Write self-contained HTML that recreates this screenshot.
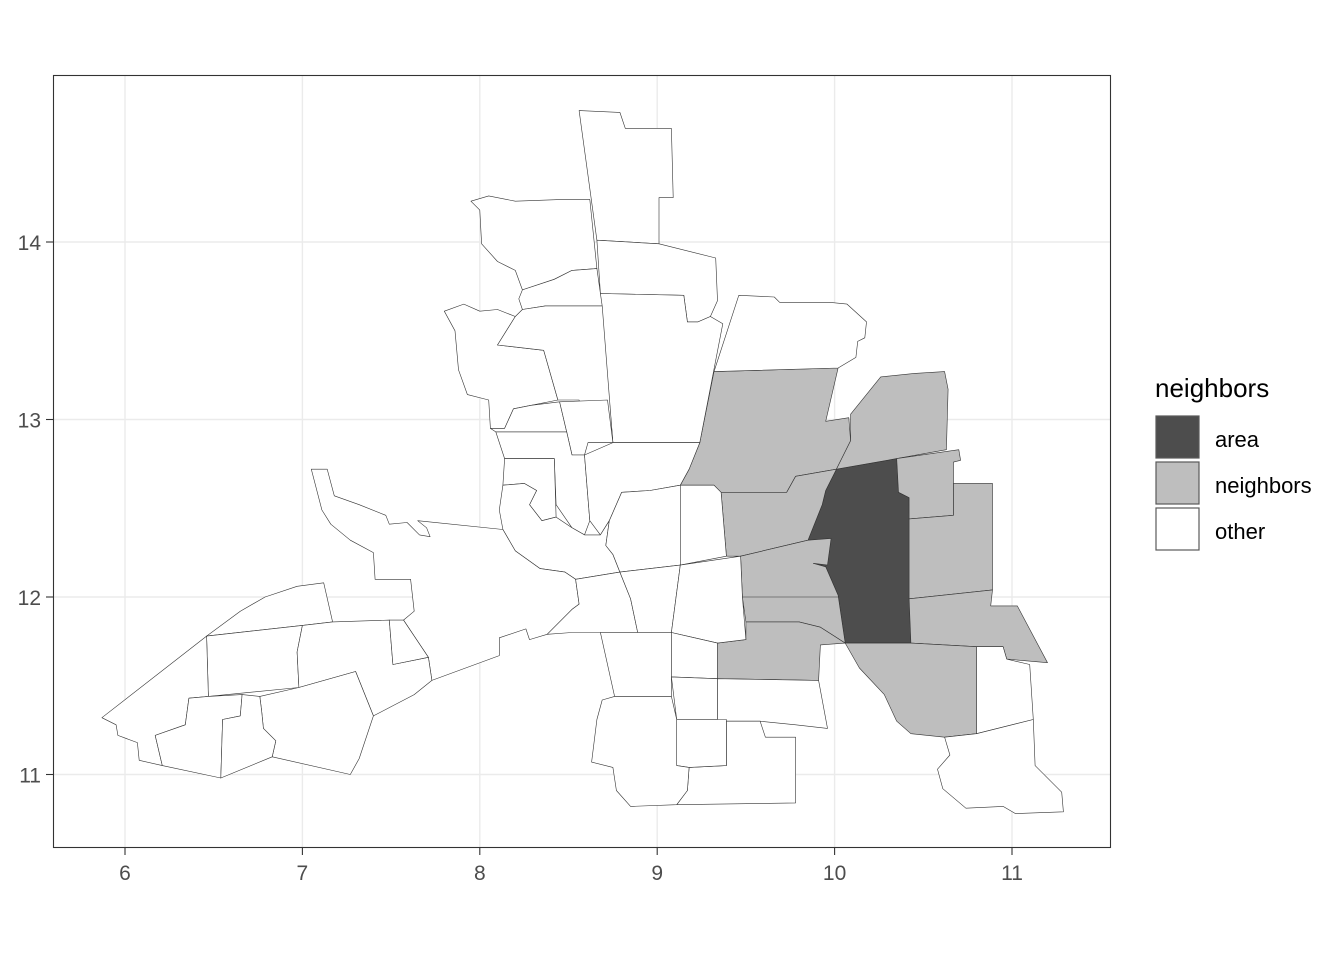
<!DOCTYPE html>
<html><head><meta charset="utf-8">
<style>
body{margin:0;background:#fff;}
svg{display:block;font-family:"Liberation Sans",Arial,sans-serif;}
</style></head>
<body>
<svg id="chart" width="1344" height="960" viewBox="0 0 1344 960">
<rect x="0" y="0" width="1344" height="960" fill="#fff"/>
<g id="grid"></g>
<g id="regions"></g>
<rect x="53.5" y="75.5" width="1057" height="772" fill="none" stroke="#333" stroke-width="1.1"/>
<g id="axes"></g>
<g id="legend">
  <text x="1155" y="397" font-size="26" fill="#000">neighbors</text>
  <g>
    <rect x="1156" y="416" width="43" height="42" fill="#4d4d4d" stroke="#595959" stroke-width="1.2"/>
    <text x="1215" y="447" font-size="22">area</text>
  </g>
  <g>
    <rect x="1156" y="462" width="43" height="42" fill="#bebebe" stroke="#595959" stroke-width="1.2"/>
    <text x="1215" y="493" font-size="22">neighbors</text>
  </g>
  <g>
    <rect x="1156" y="508" width="43" height="42" fill="#fff" stroke="#595959" stroke-width="1.2"/>
    <text x="1215" y="539" font-size="22">other</text>
  </g>
</g>
</svg>
<script>
const xTicks = [6, 7, 8, 9, 10, 11];
const yTicks = [11, 12, 13, 14];
const categories = ["area", "neighbors", "other"];
const fills = {area: "#4d4d4d", neighbors: "#bebebe", other: "#ffffff"};
const regionCategory = [
 "area","neighbors","neighbors","neighbors","neighbors","neighbors","neighbors","neighbors","neighbors","neighbors",
 "other","other","other","other","other","other","other","other","other","other","other","other","other","other","other",
 "other","other","other","other","other","other","other","other","other","other","other","other","other","other","other",
 "other","other","other","other","other","other","other"
];
const regionCoords = [
 // area
 [10.01,12.72,10.35,12.78,10.36,12.59,10.42,12.56,10.43,11.74,10.06,11.74,10.02,12.01,9.95,12.17,9.88,12.19,9.85,12.32,9.93,12.52,9.95,12.60],
 // neighbors
 [9.32,13.27,10.02,13.29,9.95,12.99,10.08,13.01,10.09,12.88,10.01,12.72,9.78,12.68,9.73,12.59,9.36,12.59,9.32,12.63,9.13,12.63,9.18,12.72,9.24,12.87],
 [10.09,13.03,10.26,13.24,10.45,13.26,10.62,13.27,10.64,13.17,10.63,12.83,10.35,12.78,10.01,12.72,10.09,12.88],
 [10.35,12.78,10.70,12.83,10.71,12.77,10.67,12.76,10.67,12.46,10.42,12.44,10.42,12.56,10.36,12.59],
 [10.42,12.44,10.67,12.46,10.67,12.64,10.89,12.64,10.89,12.04,10.42,11.99],
 [10.42,11.99,10.89,12.04,10.88,11.95,11.03,11.95,11.20,11.63,10.97,11.65,10.95,11.72,10.80,11.72,10.43,11.74],
 [10.06,11.74,10.43,11.74,10.80,11.72,10.80,11.23,10.62,11.21,10.43,11.23,10.35,11.30,10.28,11.45,10.14,11.60],
 [9.36,12.59,9.73,12.59,9.78,12.68,10.01,12.72,9.95,12.60,9.93,12.52,9.85,12.32,9.47,12.23,9.39,12.23],
 [9.47,12.23,9.85,12.32,9.98,12.33,9.96,12.18,9.88,12.19,9.95,12.17,10.02,12.01,10.06,11.74,9.92,11.83,9.80,11.86,9.50,11.86,9.48,12.00],
 [9.34,11.74,9.50,11.76,9.50,11.86,9.80,11.86,9.92,11.83,10.06,11.74,9.92,11.73,9.91,11.53,9.34,11.54],
 // other
 [8.56,14.74,8.79,14.73,8.82,14.64,9.08,14.64,9.09,14.25,9.01,14.25,9.01,13.99,8.66,14.01],
 [8.66,14.01,9.01,13.99,9.33,13.91,9.34,13.67,9.30,13.58,9.23,13.55,9.17,13.55,9.15,13.70,8.68,13.71],
 [8.68,13.71,9.15,13.70,9.17,13.55,9.23,13.55,9.30,13.58,9.37,13.54,9.24,12.87,8.75,12.87],
 [9.46,13.70,9.66,13.69,9.69,13.66,9.97,13.66,10.07,13.65,10.18,13.55,10.17,13.46,10.13,13.44,10.12,13.35,10.02,13.29,9.32,13.27],
 [7.95,14.23,8.05,14.26,8.20,14.23,8.47,14.24,8.62,14.24,8.66,13.85,8.52,13.84,8.42,13.79,8.24,13.73,8.20,13.84,8.10,13.89,8.01,13.99,8.00,14.18],
 [8.24,13.73,8.42,13.79,8.52,13.84,8.66,13.85,8.68,13.71,8.69,13.64,8.37,13.64,8.24,13.62,8.22,13.68],
 [7.80,13.61,7.91,13.65,8.00,13.61,8.10,13.62,8.20,13.58,8.10,13.42,8.36,13.39,8.44,13.11,8.29,13.08,8.19,13.06,8.14,12.95,8.06,12.95,8.05,13.11,7.93,13.14,7.88,13.28,7.86,13.50],
 [8.20,13.58,8.24,13.62,8.37,13.64,8.69,13.64,8.75,12.87,8.59,12.87,8.56,13.11,8.44,13.11,8.36,13.39,8.10,13.42],
 [8.06,12.95,8.14,12.95,8.19,13.06,8.29,13.08,8.45,13.10,8.49,12.93,8.09,12.93],
 [8.45,13.10,8.72,13.11,8.75,12.87,8.61,12.87,8.59,12.80,8.52,12.80,8.49,12.93],
 [8.09,12.93,8.49,12.93,8.52,12.80,8.59,12.80,8.62,12.43,8.59,12.35,8.52,12.39,8.43,12.52,8.42,12.78,8.14,12.78],
 [8.14,12.78,8.42,12.78,8.43,12.45,8.35,12.43,8.28,12.52,8.32,12.60,8.25,12.64,8.13,12.63],
 [8.59,12.80,8.75,12.87,9.24,12.87,9.18,12.72,9.13,12.63,8.96,12.60,8.80,12.59,8.73,12.43,8.68,12.35,8.62,12.43],
 [8.13,12.63,8.25,12.64,8.32,12.60,8.28,12.52,8.35,12.43,8.43,12.45,8.52,12.39,8.59,12.35,8.68,12.35,8.73,12.43,8.71,12.29,8.75,12.24,8.79,12.14,8.54,12.10,8.48,12.14,8.34,12.16,8.20,12.26,8.13,12.38,8.11,12.49],
 [7.05,12.72,7.14,12.72,7.18,12.57,7.32,12.52,7.47,12.46,7.49,12.41,7.59,12.42,7.66,12.35,7.72,12.34,7.70,12.39,7.65,12.43,8.13,12.38,8.20,12.26,8.34,12.16,8.48,12.14,8.54,12.10,8.56,11.96,8.52,11.93,8.38,11.79,8.28,11.76,8.26,11.82,8.11,11.77,8.11,11.67,7.73,11.53,7.71,11.66,7.61,11.81,7.57,11.87,7.63,11.92,7.61,12.10,7.41,12.10,7.40,12.25,7.27,12.32,7.16,12.41,7.11,12.49],
 [8.54,12.10,8.79,12.14,8.85,11.99,8.89,11.80,8.68,11.80,8.52,11.80,8.38,11.79,8.52,11.93,8.56,11.96],
 [8.73,12.43,8.80,12.59,8.96,12.60,9.13,12.63,9.13,12.18,8.79,12.14,8.75,12.24,8.71,12.29],
 [9.13,12.63,9.32,12.63,9.36,12.59,9.39,12.23,9.13,12.18],
 [8.79,12.14,9.13,12.18,9.08,11.80,8.89,11.80,8.85,11.99],
 [9.13,12.18,9.47,12.23,9.48,12.00,9.50,11.76,9.34,11.74,9.08,11.80],
 [8.68,11.80,8.89,11.80,9.08,11.80,9.08,11.44,8.76,11.44],
 [9.08,11.80,9.34,11.74,9.34,11.54,9.08,11.55],
 [9.08,11.55,9.34,11.54,9.34,11.31,9.11,11.31],
 [9.34,11.54,9.91,11.53,9.96,11.26,9.78,11.28,9.58,11.30,9.34,11.30],
 [9.39,11.30,9.58,11.30,9.61,11.21,9.78,11.21,9.78,10.84,9.11,10.83,9.17,10.91,9.18,11.04,9.39,11.05],
 [9.11,11.31,9.39,11.31,9.39,11.05,9.18,11.04,9.11,11.05],
 [8.76,11.44,9.08,11.44,9.11,11.31,9.11,11.05,9.18,11.04,9.17,10.91,9.11,10.83,8.85,10.82,8.77,10.91,8.75,11.04,8.63,11.07,8.66,11.31,8.69,11.42],
 [10.80,11.72,10.95,11.72,10.97,11.65,11.10,11.62,11.12,11.31,10.80,11.23],
 [10.80,11.23,11.12,11.31,11.13,11.05,11.28,10.90,11.29,10.79,11.02,10.78,10.95,10.82,10.74,10.81,10.61,10.92,10.58,11.03,10.65,11.11,10.62,11.21],
 [6.46,11.78,6.65,11.92,6.79,12.00,6.97,12.06,7.12,12.08,7.17,11.86,7.00,11.84],
 [6.46,11.78,7.00,11.84,6.97,11.69,6.98,11.49,6.47,11.44],
 [7.00,11.84,7.17,11.86,7.49,11.87,7.51,11.62,7.71,11.66,7.73,11.53,7.63,11.45,7.40,11.33,7.30,11.58,6.98,11.49,6.97,11.69],
 [7.49,11.87,7.57,11.87,7.61,11.81,7.71,11.66,7.51,11.62],
 [6.46,11.78,6.47,11.44,6.36,11.43,6.34,11.28,6.17,11.22,6.21,11.05,6.08,11.08,6.07,11.18,5.96,11.22,5.95,11.28,5.87,11.32],
 [6.47,11.44,6.66,11.45,6.65,11.33,6.55,11.31,6.54,10.98,6.21,11.05,6.17,11.22,6.34,11.28,6.36,11.43],
 [6.76,11.44,6.98,11.49,7.30,11.58,7.40,11.33,7.32,11.09,7.27,11.00,6.83,11.10,6.85,11.19,6.78,11.26,6.77,11.36],
 [6.66,11.45,6.76,11.44,6.77,11.36,6.78,11.26,6.85,11.19,6.83,11.10,6.54,10.98,6.55,11.31,6.65,11.33]
];
const innerLines = [
 [9.48,12.00,10.02,12.00]
];

const X0 = 125, XS = 177.4, Y0 = 242, YS = 177.5;
function xScale(lon){ return X0 + (lon - 6) * XS; }
function yScale(lat){ return Y0 + (14 - lat) * YS; }
const NS = "http://www.w3.org/2000/svg";

const grid = document.getElementById('grid');
xTicks.forEach(function(t){
  const l = document.createElementNS(NS, 'line');
  l.setAttribute('x1', xScale(t)); l.setAttribute('x2', xScale(t));
  l.setAttribute('y1', 75); l.setAttribute('y2', 848);
  l.setAttribute('stroke', '#ebebeb'); l.setAttribute('stroke-width', '1.4');
  
  
  grid.appendChild(l);
});
yTicks.forEach(function(t){
  const l = document.createElementNS(NS, 'line');
  l.setAttribute('y1', yScale(t)); l.setAttribute('y2', yScale(t));
  l.setAttribute('x1', 53); l.setAttribute('x2', 1111);
  l.setAttribute('stroke', '#ebebeb'); l.setAttribute('stroke-width', '1.4');
  
  
  grid.appendChild(l);
});

const regions = document.getElementById('regions');
regionCoords.forEach(function(c, i){
  const pts = [];
  for (let k = 0; k < c.length; k += 2) pts.push(xScale(c[k]).toFixed(1) + ',' + yScale(c[k+1]).toFixed(1));
  const p = document.createElementNS(NS, 'polygon');
  p.setAttribute('points', pts.join(' '));
  p.setAttribute('fill', fills[regionCategory[i]]);
  p.setAttribute('stroke', '#333');
  p.setAttribute('stroke-width', '0.6');
  p.setAttribute('stroke-linejoin', 'round');
  
  
  regions.appendChild(p);
});
innerLines.forEach(function(c){
  const l = document.createElementNS(NS, 'line');
  l.setAttribute('x1', xScale(c[0])); l.setAttribute('y1', yScale(c[1]));
  l.setAttribute('x2', xScale(c[2])); l.setAttribute('y2', yScale(c[3]));
  l.setAttribute('stroke', '#333'); l.setAttribute('stroke-width', '0.6');
  
  
  regions.appendChild(l);
});

const axes = document.getElementById('axes');
xTicks.forEach(function(t){
  const x = xScale(t);
  const l = document.createElementNS(NS, 'line');
  l.setAttribute('x1', x); l.setAttribute('x2', x); l.setAttribute('y1', 848); l.setAttribute('y2', 855);
  l.setAttribute('stroke', '#333'); l.setAttribute('stroke-width', '1.1');
  
  
  axes.appendChild(l);
  const tx = document.createElementNS(NS, 'text');
  tx.setAttribute('x', x); tx.setAttribute('y', 880);
  tx.setAttribute('text-anchor', 'middle'); tx.setAttribute('font-size', '21'); tx.setAttribute('fill', '#4d4d4d');
  tx.textContent = t;
  
  
  axes.appendChild(tx);
});
yTicks.forEach(function(t){
  const y = yScale(t);
  const l = document.createElementNS(NS, 'line');
  l.setAttribute('y1', y); l.setAttribute('y2', y); l.setAttribute('x1', 46); l.setAttribute('x2', 53);
  l.setAttribute('stroke', '#333'); l.setAttribute('stroke-width', '1.1');
  
  
  axes.appendChild(l);
  const tx = document.createElementNS(NS, 'text');
  tx.setAttribute('x', 41); tx.setAttribute('y', y + 8);
  tx.setAttribute('text-anchor', 'end'); tx.setAttribute('font-size', '21'); tx.setAttribute('fill', '#4d4d4d');
  tx.textContent = t;
  
  
  axes.appendChild(tx);
});
</script>
</body></html>
